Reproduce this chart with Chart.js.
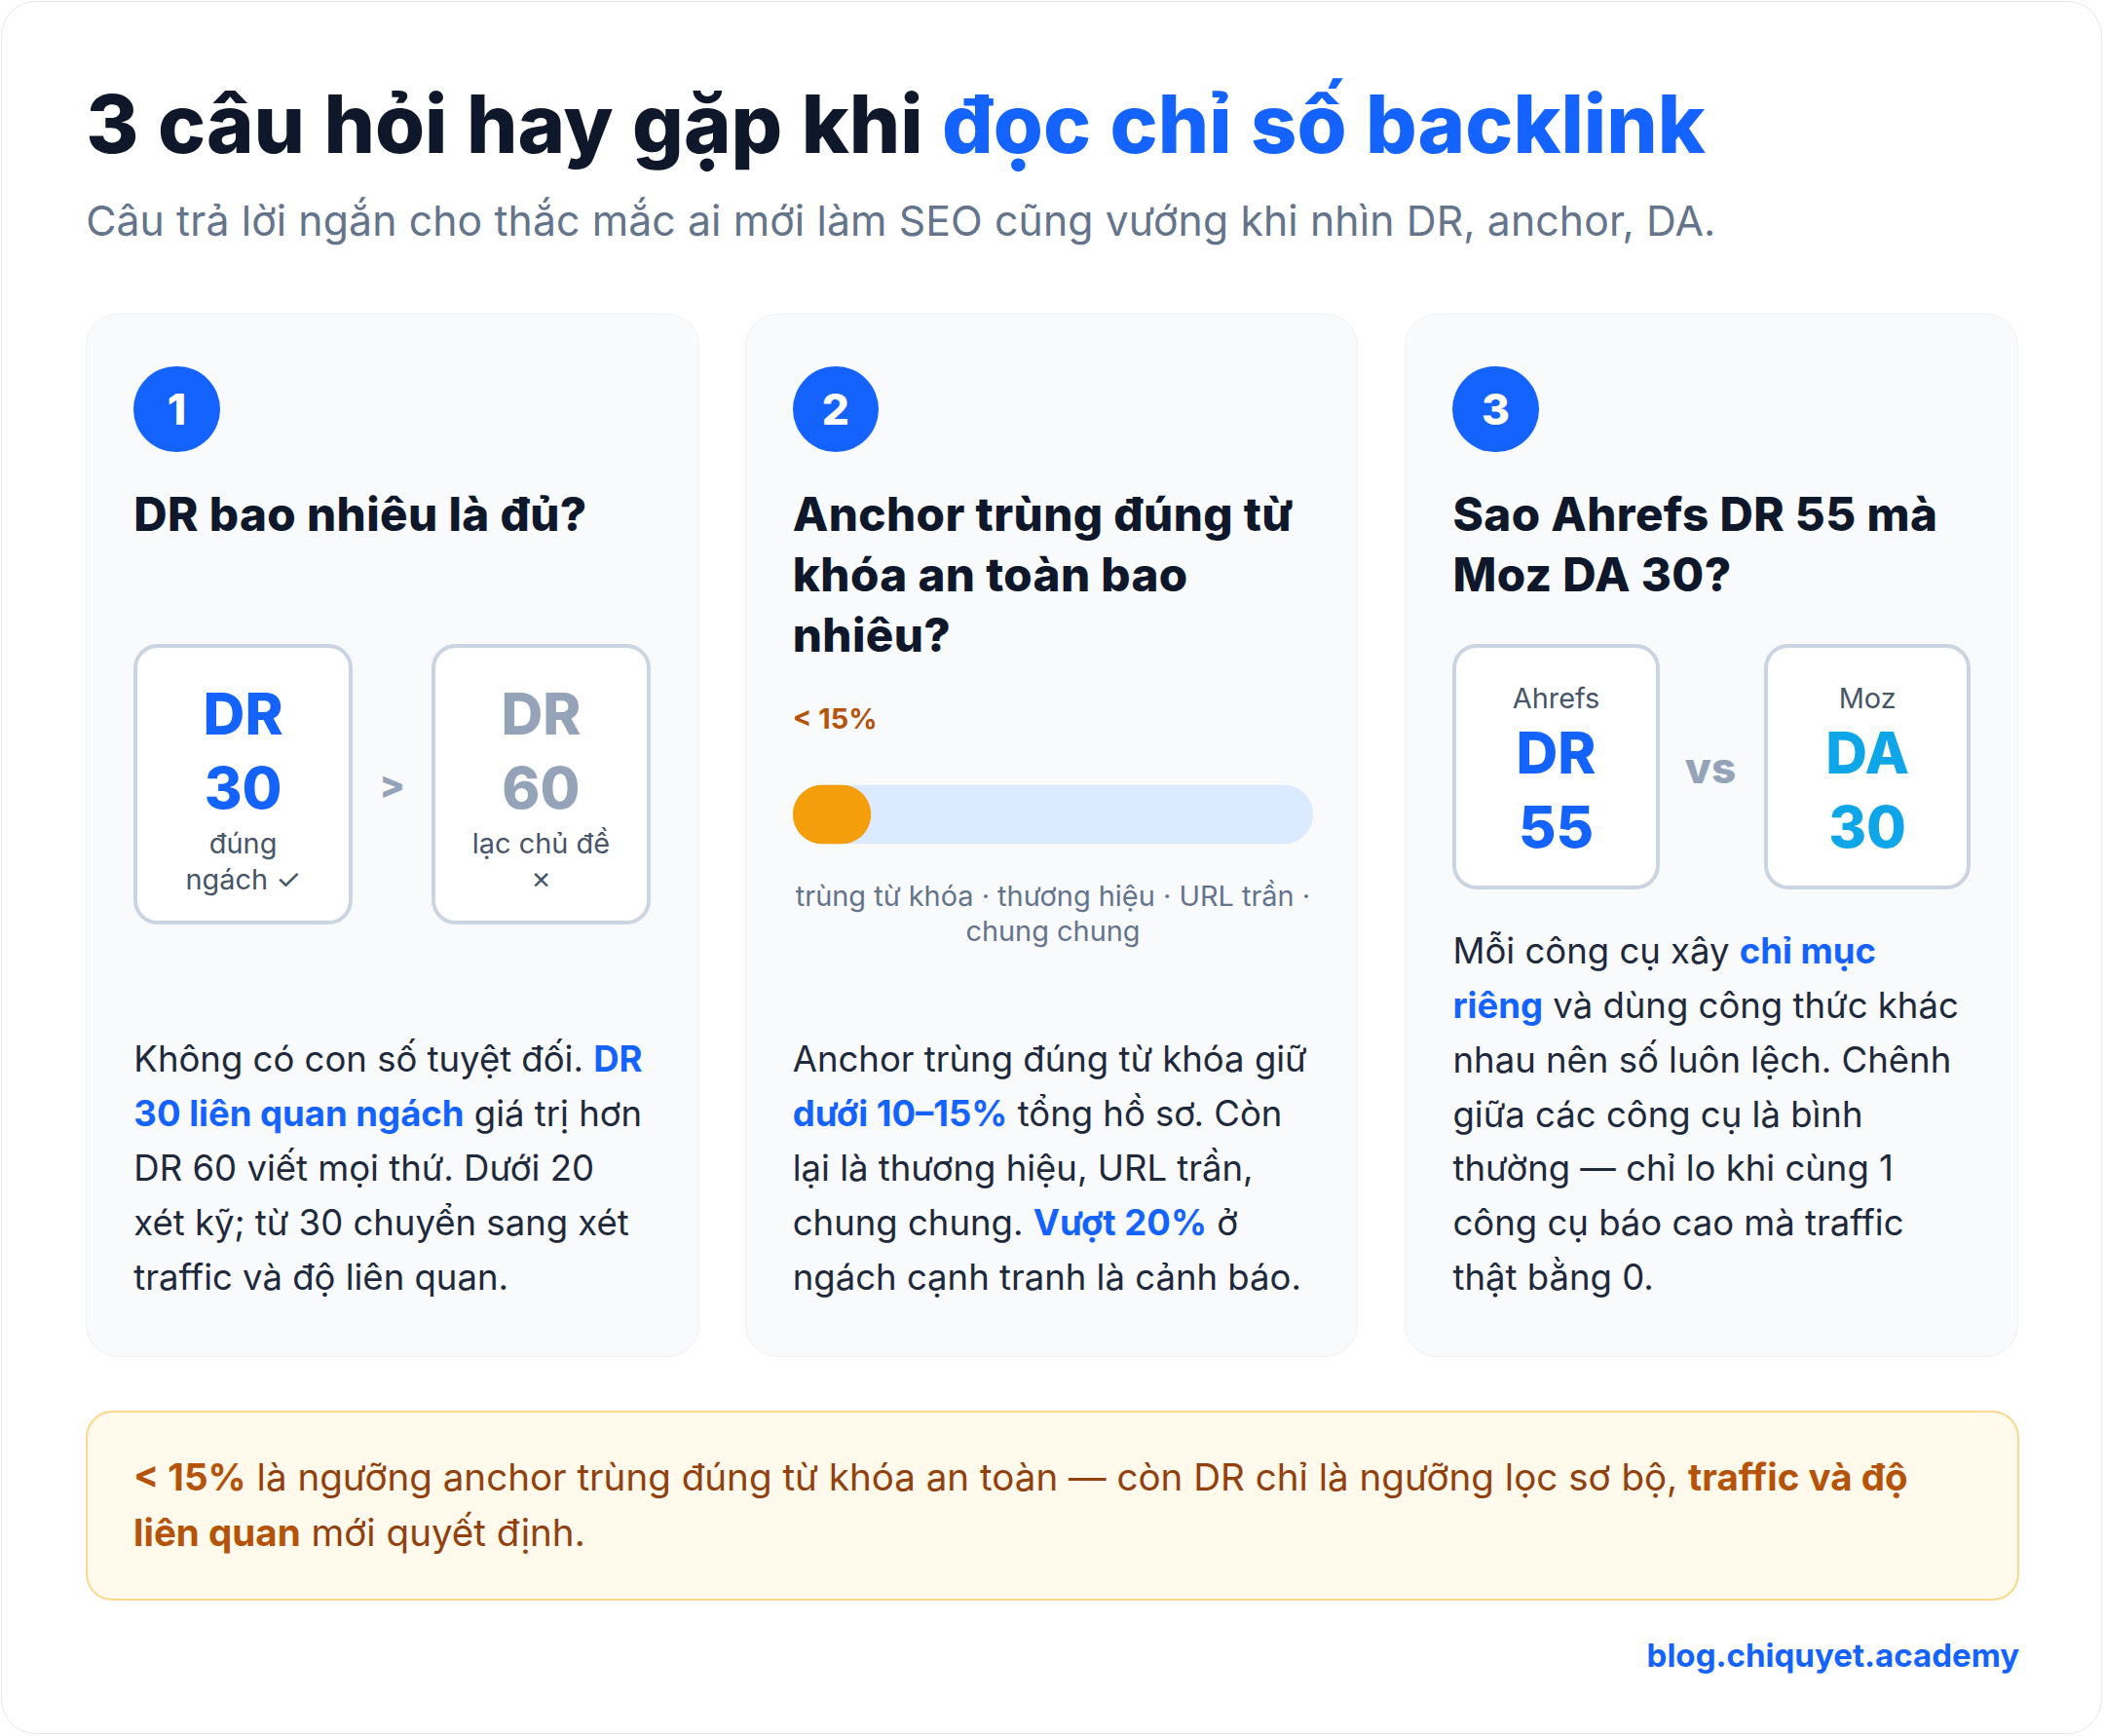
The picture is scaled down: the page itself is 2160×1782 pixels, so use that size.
<!DOCTYPE html>
<html lang="vi">
<head>
<meta charset="utf-8">
<script src="https://cdn.jsdelivr.net/npm/chart.js@4/dist/chart.umd.min.js"></script>
<style>
  html, body { margin: 0; padding: 0; background: #fff; }
  body { width: 2160px; height: 1782px; overflow: hidden; font-family: Inter, "Noto Sans", sans-serif; }
  #page { zoom: 1.37755; width: 1568px; height: 1294px; position: relative; }
  .frame { position: absolute; left: 1px; top: 1px; width: 1564px; height: 1290px; border: 1px solid #e5e7eb; border-radius: 26px; background: #fff; }
  h1 { position: absolute; left: 64px; top: 56px; margin: 0; font-size: 60px; font-weight: 800; color: #0f172a; letter-spacing: 0px; word-spacing: 1px; }
  h1 span { color: #1463ff; }
  .sub { position: absolute; left: 64px; top: 146px; font-size: 31px; color: #64748b; letter-spacing: 0.1px; }
  .card { position: absolute; top: 234px; height: 777px; width: 457px; background: #f8fafc; border: 1px solid #eef1f5; border-radius: 24px; box-sizing: border-box; }
  .badge { position: absolute; left: 35px; top: 38px; width: 64px; height: 64px; border-radius: 50%; background: #1463ff; color: #fff; font-size: 32px; font-weight: 800; text-align: center; line-height: 64px; }
  .card h2 { position: absolute; left: 35px; top: 126px; width: 400px; margin: 0; font-size: 34.5px; line-height: 45px; font-weight: 800; color: #0f172a; letter-spacing: 0.3px; }
  .body { position: absolute; left: 35px; width: 392px; font-size: 26.5px; line-height: 40.6px; color: #1e293b; }
  .body b { color: #1463ff; font-weight: 700; }
  .box { position: absolute; top: 245px; width: 163px; height: 209px; border: 3px solid #cbd5e1; border-radius: 18px; background: #fff; box-sizing: border-box; text-align: center; }
  .big { font-size: 43px; font-weight: 800; line-height: 55px; }
  .small { font-size: 21px; line-height: 27px; color: #475569; }
  .op { position: absolute; font-size: 28px; font-weight: 800; color: #94a3b8; }
  .callout { position: absolute; left: 64px; top: 1051px; width: 1441px; height: 142px; background: #fffaeb; border: 2px solid #fbd88a; border-radius: 20px; box-sizing: border-box; }
  .callout p { margin: 0; position: absolute; left: 34px; top: 28px; width: 1360px; font-size: 28px; line-height: 41px; color: #92400e; }
  .callout b { color: #b45309; }
  .foot { position: absolute; right: 63px; top: 1219px; font-size: 24px; font-weight: 700; color: #1463ff; }
</style>
</head>
<body>
<div id="page">
  <div class="frame"></div>
  <h1>3 câu hỏi hay gặp khi <span>đọc chỉ số backlink</span></h1>
  <div class="sub">Câu trả lời ngắn cho thắc mắc ai mới làm SEO cũng vướng khi nhìn DR, anchor, DA.</div>

  <div class="card" style="left:64px">
    <div class="badge">1</div>
    <h2>DR bao nhiêu là đủ?</h2>
    <div class="box" style="left:35px"><div class="big" style="color:#1463ff;margin-top:22px">DR<br>30</div><div class="small">đúng<br>ngách ✓</div></div>
    <div class="op" style="left:218px;top:333px">&gt;</div>
    <div class="box" style="left:257px"><div class="big" style="color:#94a3b8;margin-top:22px">DR<br>60</div><div class="small">lạc chủ đề<br>✗</div></div>
    <div class="body" style="top:535px;width:385px">Không có con số tuyệt đối. <b>DR 30 liên quan ngách</b> giá trị hơn DR 60 viết mọi thứ. Dưới 20 xét kỹ; từ 30 chuyển sang xét traffic và độ liên quan.</div>
  </div>

  <div class="card" style="left:555px">
    <div class="badge">2</div>
    <h2>Anchor trùng đúng từ khóa an toàn bao nhiêu?</h2>
    <div style="position:absolute;left:35px;top:288px;font-size:21px;font-weight:700;color:#b45309">&lt; 15%</div>
    <div style="position:absolute;left:35px;top:348px;width:388px;height:48px"><canvas id="bar"></canvas></div>
    <div style="position:absolute;left:20px;top:420px;width:418px;text-align:center;font-size:21px;line-height:26px;color:#64748b">trùng từ khóa · thương hiệu · URL trần · chung chung</div>
    <div class="body" style="top:535px;width:395px">Anchor trùng đúng từ khóa giữ <b>dưới 10–15%</b> tổng hồ sơ. Còn lại là thương hiệu, URL trần, chung chung. <b>Vượt 20%</b> ở ngách cạnh tranh là cảnh báo.</div>
  </div>

  <div class="card" style="left:1047px">
    <div class="badge">3</div>
    <h2>Sao Ahrefs DR 55 mà Moz DA 30?</h2>
    <div class="box" style="left:35px;width:154px;height:183px"><div class="small" style="margin-top:24px">Ahrefs</div><div class="big" style="color:#1463ff">DR<br>55</div></div>
    <div class="op" style="left:208px;top:318px;font-size:32px">vs</div>
    <div class="box" style="left:267px;width:154px;height:183px"><div class="small" style="margin-top:24px">Moz</div><div class="big" style="color:#0ea5e9">DA<br>30</div></div>
    <div class="body" style="top:454px;width:382px">Mỗi công cụ xây <b>chỉ mục riêng</b> và dùng công thức khác nhau nên số luôn lệch. Chênh giữa các công cụ là bình thường — chỉ lo khi cùng 1 công cụ báo cao mà traffic thật bằng 0.</div>
  </div>

  <div class="callout"><p><b>&lt; 15%</b> là ngưỡng anchor trùng đúng từ khóa an toàn — còn DR chỉ là ngưỡng lọc sơ bộ, <b>traffic và độ liên quan</b> mới quyết định.</p></div>
  <div class="foot">blog.chiquyet.academy</div>
</div>

<script>
  // anchor share bar
  const barLabels = ["Exact-match anchor"];
  const trackValues = [100];
  const shareValues = [15];

  new Chart(document.getElementById("bar"), {
    type: "bar",
    data: {
      labels: barLabels,
      datasets: [
        { data: shareValues, backgroundColor: "#f59e0b", borderRadius: 22, borderSkipped: false, grouped: false, order: 0, barPercentage: 1, categoryPercentage: 0.92 },
        { data: trackValues, backgroundColor: "#dbeafe", borderRadius: 22, borderSkipped: false, grouped: false, order: 1, barPercentage: 1, categoryPercentage: 0.92 }
      ]
    },
    options: {
      indexAxis: "y",
      responsive: true,
      maintainAspectRatio: false,
      devicePixelRatio: 3,
      animation: false,
      layout: { padding: 0 },
      scales: {
        x: { display: false, min: 0, max: 100 },
        y: { display: false }
      },
      plugins: { legend: { display: false }, tooltip: { enabled: false } }
    }
  });
</script>
</body>
</html>
